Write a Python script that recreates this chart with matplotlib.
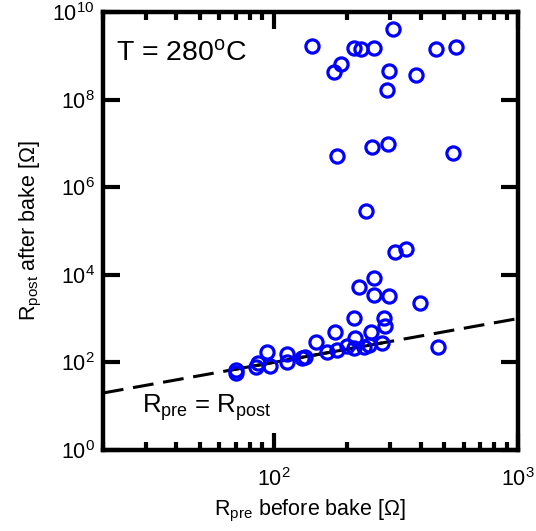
import matplotlib
matplotlib.use('Agg')
import matplotlib.pyplot as plt
from matplotlib.ticker import LogLocator, LogFormatterMathtext, NullFormatter

plt.rcParams['font.family'] = ['Liberation Sans', 'DejaVu Sans']
plt.rcParams['mathtext.fontset'] = 'custom'
plt.rcParams['mathtext.rm'] = 'Liberation Sans'
plt.rcParams['mathtext.it'] = 'Liberation Sans'
plt.rcParams['mathtext.bf'] = 'Liberation Sans:bold'
plt.rcParams['lines.scale_dashes'] = False

# resistance before bake (Ohm)
r_pre = [144, 307, 213, 229, 257, 461, 557, 188, 176, 296, 384, 291,
         181, 253, 294, 541,
         238, 313, 348, 258, 223, 258, 298, 398, 213, 284, 286, 179,
         251, 149, 216, 278, 245, 200, 470, 94, 114, 135, 166, 182,
         213, 234, 86, 97, 114, 131, 84.5, 70, 70]
# resistance after bake (Ohm)
r_post = [1.7e9, 4.0e9, 1.48e9, 1.41e9, 1.48e9, 1.41e9, 1.59e9, 6.4e8, 4.2e8, 4.6e8, 3.6e8, 1.66e8,
          5.2e6, 8.4e6, 9.5e6, 5.9e6,
          2.9e5, 3.4e4, 3.9e4, 8.6e3, 5.2e3, 3.5e3, 3.2e3, 2.3e3, 1.05e3, 1.05e3, 689, 487,
          502, 297, 366, 282, 250, 241, 228, 170, 156, 135, 170, 192,
          210, 228, 98, 84, 104, 124, 77, 67, 58]

# reference line R_pre = R_post
line_x = [20, 1000]
fit_x = [68, 275]

fig = plt.figure(figsize=(5.36, 5.31), dpi=100)
ax = fig.add_axes([0.192, 0.1525, 0.774, 0.825])

ax.plot(line_x, line_x, color='black', lw=2.2, dashes=(15, 7))
ax.plot(fit_x, fit_x, color='black', lw=2.2)
ax.plot(r_pre, r_post, 'o', mfc='none', mec='#0000ff', mew=2.3, ms=9.5, ls='none')

ax.set_xscale('log')
ax.set_yscale('log')
ax.set_xlim(20, 1000)
ax.set_ylim(1, 1e10)

ax.xaxis.set_major_locator(LogLocator(base=10, numticks=10))
ax.xaxis.set_major_formatter(LogFormatterMathtext())
ax.xaxis.set_minor_locator(LogLocator(base=10, subs=range(2, 10), numticks=10))
ax.xaxis.set_minor_formatter(NullFormatter())
ax.set_yticks([1, 1e2, 1e4, 1e6, 1e8, 1e10])
ax.yaxis.set_major_formatter(LogFormatterMathtext())
ax.yaxis.set_minor_locator(plt.NullLocator())

ax.tick_params(which='both', direction='in', top=True, right=True, labelsize=15.5, colors='black')
ax.tick_params(which='major', length=12, width=3)
ax.tick_params(which='minor', length=6, width=3)
ax.tick_params(axis='x', pad=13)
ax.tick_params(axis='y', pad=6)
for s in ax.spines.values():
    s.set_linewidth(3.2)

ax.set_xlabel(r'R$_{\rm pre}$ before bake [Ω]', fontsize=15.5, labelpad=5)
ax.set_ylabel(r'R$_{\rm post}$ after bake [Ω]', fontsize=15.5, labelpad=6)

ax.text(0.031, 0.89, r'T = 280$^{\rm o}$C', transform=ax.transAxes, fontsize=20.5, va='baseline')
ax.text(0.094, 0.084, r'R$_{\rm pre}$ = R$_{\rm post}$', transform=ax.transAxes, fontsize=18.5, va='baseline')

fig.savefig('out.png', dpi=100)
